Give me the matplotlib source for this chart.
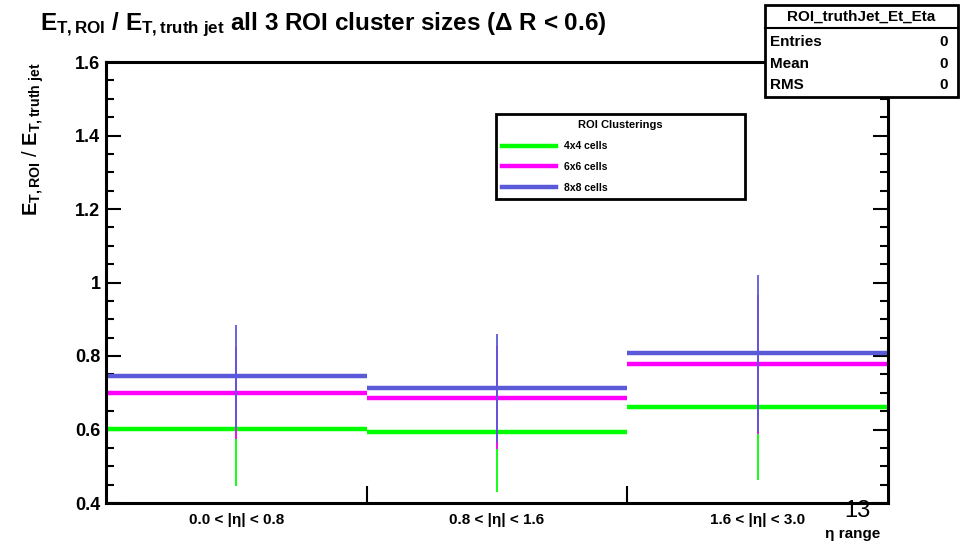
import numpy as np
import matplotlib
matplotlib.use('Agg')
import matplotlib.pyplot as plt
from matplotlib.lines import Line2D
from matplotlib.patches import Rectangle

plt.rcParams['font.family'] = ['Liberation Sans', 'DejaVu Sans']
plt.rcParams['mathtext.fontset'] = 'custom'
plt.rcParams['mathtext.rm'] = 'Liberation Sans:bold'
plt.rcParams['mathtext.it'] = 'Liberation Sans:bold'
plt.rcParams['mathtext.bf'] = 'Liberation Sans:bold'
plt.rcParams['mathtext.sf'] = 'Liberation Sans:bold'

# eta bins
bin_edges = [0, 1, 2, 3]
bin_labels = ['0.0 < |η| < 0.8', '0.8 < |η| < 1.6', '1.6 < |η| < 3.0']

# ET,ROI / ET,truth jet per cluster size
series_names = ['4x4 cells', '6x6 cells', '8x8 cells']
green_val = [0.602, 0.593, 0.660]
green_err = [0.157, 0.163, 0.197]
magenta_val = [0.700, 0.687, 0.777]
magenta_err = [0.125, 0.140, 0.190]
blue_val = [0.745, 0.713, 0.807]
blue_err = [0.140, 0.148, 0.213]

colors = ['#00ff00', '#ff00ff', '#5a5ad8']

W, H = 961, 544
fig = plt.figure(figsize=(W / 100, H / 100), dpi=100)
ax = fig.add_axes([106 / W, 1 - 503 / H, 782 / W, 441 / H])

edges = np.array(bin_edges, dtype=float)
centers = (edges[:-1] + edges[1:]) / 2
all_vals = [green_val, magenta_val, blue_val]
all_errs = [green_err, magenta_err, blue_err]
for vals, errs, c, name in zip(all_vals, all_errs, colors, series_names):
    vals = np.array(vals)
    errs = np.array(errs)
    ax.hlines(vals, edges[:-1], edges[1:], colors=c, lw=3.2, label=name)
    ax.vlines(centers, vals - errs, vals + errs, colors=c, lw=1.3)

ax.set_xlim(0, 3)
ax.set_ylim(0.4, 1.6)

# y axis: ticks on both sides, pointing in
ax.set_yticks(np.arange(0.4, 1.61, 0.2))
ax.set_yticklabels(['%g' % v for v in np.arange(0.4, 1.61, 0.2)])
ax.set_yticks(np.arange(0.4, 1.61, 0.05), minor=True)
ax.tick_params(axis='y', which='both', direction='in', left=True, right=True, width=1.5)
ax.tick_params(axis='y', which='major', length=11, pad=4, labelsize=13)
ax.tick_params(axis='y', which='minor', length=6)
for t in ax.get_yticklabels():
    t.set_fontweight('bold')

# x axis: ticks at bin edges, labels at bin centres
ax.set_xticks(edges[1:-1])
ax.set_xticklabels([])
ax.set_xticks(centers, minor=True)
ax.set_xticklabels(bin_labels, minor=True, fontweight='bold', fontsize=11)
ax.tick_params(axis='x', which='major', direction='in', length=12, width=1.5)
ax.tick_params(axis='x', which='minor', length=0, pad=7)

for s in ax.spines.values():
    s.set_linewidth(2.2)

ax.set_ylabel(r'$E_{T,ROI}$ / $E_{T,truth\ jet}$', loc='top', fontsize=14.5)
ax.yaxis.set_label_coords(-0.077, 1.0)
ax.set_xlabel('η range', loc='right', fontsize=11, fontweight='bold')
ax.xaxis.set_label_coords(0.99, -0.055)

handles = [Line2D([], [], color=c, lw=3.2) for c in colors]
leg = ax.legend(handles, series_names, title='ROI Clusterings',
                loc='upper left', bbox_to_anchor=(496 / W, 1 - 199 / H, 249 / W, 85 / H),
                bbox_transform=fig.transFigure, mode='expand', fancybox=False,
                framealpha=1, edgecolor='black', borderaxespad=0,
                prop={'weight': 'bold', 'size': 7.5},
                title_fontproperties={'weight': 'bold', 'size': 8},
                handlelength=5.2, handletextpad=0.7, labelspacing=1.05, borderpad=0.6)
leg.get_frame().set_linewidth(2)

fig.text(40 / W, 1 - 25 / H, r'$E_{T,ROI}$ / $E_{T,truth\ jet}$ all 3 ROI cluster sizes (Δ R < 0.6)',
         ha='left', va='center', fontsize=17.5, fontweight='bold')

# stats box
bx0, bx1, by0, by1 = 765 / W, 958 / W, 1 - 97 / H, 1 - 5 / H
fig.patches.append(Rectangle((bx0, by0), bx1 - bx0, by1 - by0, transform=fig.transFigure,
                             facecolor='white', edgecolor='black', lw=2, zorder=5))
fig.lines.append(Line2D([bx0, bx1], [1 - 28 / H, 1 - 28 / H], transform=fig.transFigure,
                        color='black', lw=1.5, zorder=6))
fig.text((bx0 + bx1) / 2, 1 - 17 / H, 'ROI_truthJet_Et_Eta', ha='center', va='center',
         fontsize=11, fontweight='bold', zorder=7)
stat_names = ['Entries', 'Mean', 'RMS']
stat_vals = ['0', '0', '0']
for i, (n, v) in enumerate(zip(stat_names, stat_vals)):
    yy = 1 - (42 + 21.5 * i) / H
    fig.text(770 / W, yy, n, ha='left', va='center', fontsize=11, fontweight='bold', zorder=7)
    fig.text(948 / W, yy, v, ha='right', va='center', fontsize=11, fontweight='bold', zorder=7)

fig.text(857 / W, 1 - 511 / H, '13', ha='center', va='center', fontsize=17)

fig.savefig('out.png', dpi=100)
